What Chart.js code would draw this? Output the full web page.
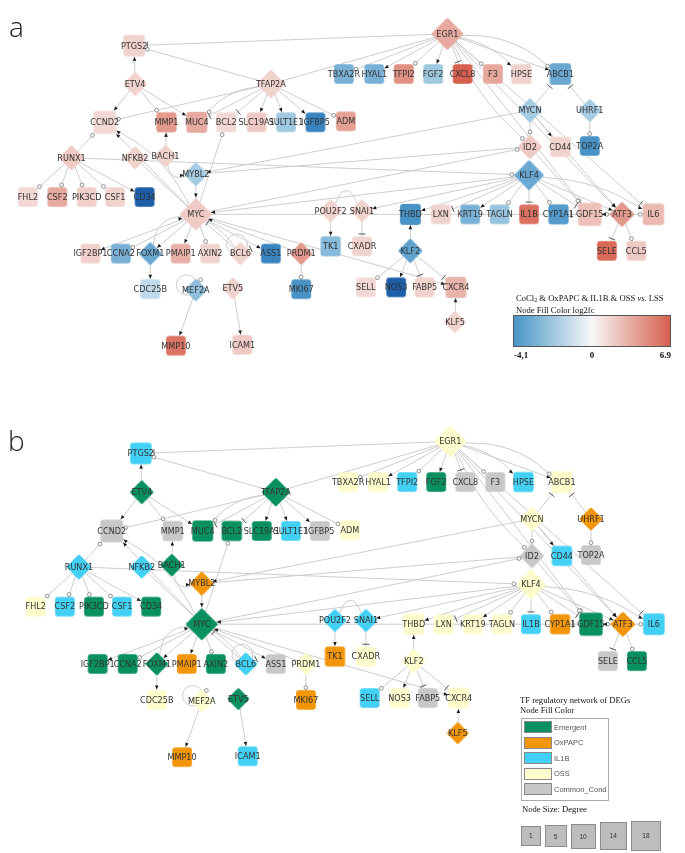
<!DOCTYPE html>
<html>
<head>
<meta charset="utf-8">
<script src="https://cdn.jsdelivr.net/npm/chart.js@4.4.0/dist/chart.umd.min.js"></script>
<style>
  body { margin:0; background:#fff; width:685px; height:853px; position:relative; overflow:hidden; }
  canvas { position:absolute; left:0; }
  #netA { top:0; }
  #netB { top:400px; }
  .tag { position:absolute; font-family:"Open Sans", sans-serif; font-weight:300; font-size:28px; color:#222; line-height:1; }
  .serif { position:absolute; font-family:"Liberation Serif", "Times New Roman", serif; font-size:8.6px; color:#111; line-height:9.6px; white-space:nowrap; }
  #bar { position:absolute; left:513px; top:315px; width:156px; height:30px; border:1px solid #555;
         background:linear-gradient(to right, #4896c7 0%, #f7f7f7 50%, #d6604d 100%); }
  .num { position:absolute; font-family:"Liberation Serif", serif; font-weight:bold; font-size:9px; color:#111; }
  #keyBox { position:absolute; left:521px; top:718px; width:86px; height:81px; border:1px solid #aaa; background:#fff; }
  .sw { position:absolute; left:2px; width:26px; height:10px; border:1px solid #888; }
  .swl { position:absolute; left:32px; font-family:"Liberation Sans", Arial, sans-serif; font-size:7.5px; color:#555; }
  .deg { position:absolute; background:#bdbdbd; border:1px solid #8c8c8c; box-sizing:border-box;
         font-family:"Liberation Sans", Arial, sans-serif; font-size:6.5px; color:#333; display:flex; align-items:center; justify-content:center; }
</style>
</head>
<body>
<canvas id="netA" width="685" height="395"></canvas>
<canvas id="netB" width="685" height="453"></canvas>
<div class="tag" style="left:9px;top:12px;">a</div>
<div class="tag" style="left:8px;top:426px;">b</div>

<div class="serif" style="left:516px;top:294px;">CoCl<sub style="font-size:6px;vertical-align:-1px">2</sub> &amp; OxPAPC &amp; IL1B &amp; OSS <i>vs.</i> LSS<br>Node Fill Color log2fc</div>
<div id="bar"></div>
<div id="fcNums"></div>

<div class="serif" style="left:520px;top:696px;">TF regulatory network of DEGs<br>Node Fill Color</div>
<div id="keyBox"></div>
<div class="serif" style="left:522px;top:805px;">Node Size: Degree</div>
<div id="degKey"></div>

<script>
// ===== Nodes (positions in panel a pixels) =====
const genes = ['EGR1','PTGS2','ETV4','TFAP2A','TBXA2R','HYAL1','TFPI2','FGF2','CXCL8','F3',
  'HPSE','ABCB1','CCND2','MMP1','MUC4','BCL2','SLC19A1','SULT1E1','IGFBP5','ADM',
  'MYCN','UHRF1','ID2','CD44','TOP2A','RUNX1','NFKB2','BACH1','MYBL2','KLF4',
  'FHL2','CSF2','PIK3CD','CSF1','CD34','MYC','POU2F2','SNAI1','THBD','LXN',
  'KRT19','TAGLN','IL1B','CYP1A1','GDF15','ATF3','IL6','IGF2BP1','CCNA2','FOXM1',
  'PMAIP1','AXIN2','BCL6','ASS1','PRDM1','TK1','CXADR','KLF2','SELE','CCL5',
  'CDC25B','MEF2A','ETV5','MKI67','SELL','NOS3','FABP5','CXCR4','KLF5','MMP10','ICAM1'];
const posX = [453,123,124,267,344,376,407,438,469,501,
  531,572,92,157,189,220,252,283,314,346,
  540,603,540,572,603,57,124,156,188,539,
  11,42,73,103,134,188,330,363,414,446,
  477,508,539,570,603,637,670,77,109,140,
  172,203,235,267,299,330,363,414,621,652,
  140,188,227,299,367,399,429,462,461,167,237];
const posY = [18,31,73,73,62,62,62,62,62,62,
  62,62,115,115,115,115,115,115,115,114,
  102,102,142,142,141,154,154,152,172,173,
  197,197,197,197,197,216,212,212,216,216,
  216,216,216,216,216,216,216,259,259,259,
  259,259,259,259,259,251,251,256,256,256,
  298,299,297,298,296,296,296,296,334,360,359];
const isTF = [1,0,1,1,0,0,0,0,0,0,
  0,0,0,0,0,0,0,0,0,0,
  1,1,1,0,0,1,1,1,1,1,
  0,0,0,0,0,1,1,1,0,0,
  0,0,0,0,0,1,0,0,0,1,
  0,0,1,0,1,0,0,1,0,0,
  0,1,1,0,0,0,0,0,1,0,0];
const log2fc = [2.5,1.2,1.2,1.2,-1.8,-1.8,3.5,-1.3,6.9,2.6,
  1.2,-2,1,3,2.5,1,1.5,-1.3,-3.2,2.8,
  -1.2,-1.2,1.5,1.2,-2.8,1.5,1.2,1.2,-1.2,-2,
  1,2.5,1.3,1.2,-4.1,1.5,1.2,1.2,-2.8,1.2,
  -1.8,-1.4,5.5,-2.5,1.8,3,2,1.3,-1.8,-2,
  2.3,1.2,1.2,-3.2,3,-1.6,1.2,-2.2,6,1.5,
  -0.8,-1.5,1.2,-2.8,1,-4.1,1.2,2.2,1.2,5.2,1.5];
const group = ['OSS','IL1B','Emergent','Emergent','OSS','OSS','IL1B','Emergent','Common_Cond','Common_Cond',
  'IL1B','OSS','Common_Cond','Common_Cond','Emergent','Emergent','Emergent','IL1B','Common_Cond','OSS',
  'OSS','OxPAPC','Common_Cond','IL1B','Common_Cond','IL1B','IL1B','Emergent','OxPAPC','OSS',
  'OSS','IL1B','Emergent','IL1B','Emergent','Emergent','IL1B','IL1B','OSS','OSS',
  'OSS','OSS','IL1B','OxPAPC','Emergent','OxPAPC','IL1B','Emergent','Emergent','Emergent',
  'OxPAPC','Emergent','IL1B','Common_Cond','OSS','OxPAPC','OSS','OSS','Common_Cond','Emergent',
  'OSS','OSS','Emergent','OxPAPC','IL1B','OSS','Common_Cond','OSS','OxPAPC','OxPAPC','IL1B'];
const degree = [18,4,4,12,1,1,1,1,1,1,
  2,4,6,2,3,2,1,1,1,1,
  5,3,5,2,1,6,3,2,4,14,
  1,1,1,1,1,18,3,3,3,1,
  1,1,1,2,7,6,4,1,1,3,
  1,1,3,1,2,2,1,5,1,1,
  1,2,1,1,1,1,1,3,1,1,1];

// ===== Edges: [source, target, end mark, bend] =====
const edges = [
  ['EGR1','PTGS2','t',0], ['EGR1','TFAP2A','n',0], ['EGR1','TBXA2R','c',0], ['EGR1','HYAL1','a',0],
  ['EGR1','TFPI2','c',0], ['EGR1','FGF2','a',0], ['EGR1','CXCL8','t',0], ['EGR1','F3','c',0],
  ['EGR1','HPSE','a',-8], ['EGR1','ABCB1','a',0], ['EGR1','ABCB1','c',-14], ['EGR1','ID2','c',8],
  ['EGR1','GDF15','c',0], ['EGR1','ATF3','a',0], ['EGR1','IL6','t',0],
  ['ETV4','PTGS2','a',0], ['ETV4','CCND2','a',0], ['ETV4','MMP1','c',0], ['ETV4','MUC4','a',0],
  ['TFAP2A','PTGS2','c',0], ['TFAP2A','CCND2','c',0], ['TFAP2A','MUC4','t',0], ['TFAP2A','MUC4','c',10],
  ['TFAP2A','BCL2','t',0], ['TFAP2A','SLC19A1','a',0], ['TFAP2A','SULT1E1','a',0], ['TFAP2A','IGFBP5','a',0],
  ['TFAP2A','ADM','c',0],
  ['MYCN','ABCB1','t',0], ['UHRF1','ABCB1','t',0], ['UHRF1','TOP2A','c',0], ['MYCN','ID2','c',0],
  ['MYCN','CD44','a',0], ['MYCN','ATF3','a',0], ['MYCN','MYBL2','a',0], ['ID2','MYBL2','n',0],
  ['ID2','GDF15','c',0],
  ['BACH1','MMP1','a',0], ['BACH1','MYBL2','a',14], ['MYBL2','MYC','a',0],
  ['RUNX1','CCND2','c',0], ['RUNX1','FHL2','c',0], ['RUNX1','CSF2','c',0], ['RUNX1','PIK3CD','c',0],
  ['RUNX1','CSF1','c',0], ['RUNX1','CD34','a',0], ['RUNX1','KLF4','c',0],
  ['NFKB2','MYC','n',0], ['MYC','CCND2','a',0], ['MYC','CCND2','a',12], ['MYC','BCL2','c',0],
  ['MYC','ID2','c',0], ['KLF4','MYC','a',0],
  ['MYC','IGF2BP1','a',0], ['MYC','CCNA2','c',0], ['MYC','FOXM1','a',0], ['MYC','PMAIP1','a',0],
  ['MYC','AXIN2','c',0], ['MYC','BCL6','n',0], ['BCL6','MYC','t',4], ['MYC','ASS1','a',0],
  ['PRDM1','MYC','a',0], ['FOXM1','MYC','a',-16], ['FOXM1','CDC25B','a',0], ['BCL6','BCL6','t',-110],
  ['MEF2A','MEF2A','c',-150], ['MEF2A','MMP10','a',0], ['ETV5','ICAM1','a',0], ['PRDM1','MKI67','c',0],
  ['MYC','ATF3','n',0], ['MYC','CXCR4','a',0],
  ['POU2F2','TK1','a',0], ['POU2F2','SNAI1','n',-22], ['SNAI1','CXADR','t',0], ['KLF4','SNAI1','a',0],
  ['KLF4','THBD','a',0], ['KLF4','LXN','t',0], ['KLF4','KRT19','a',0], ['KLF4','TAGLN','c',0],
  ['KLF4','IL1B','t',0], ['KLF4','CYP1A1','c',0], ['KLF4','GDF15','t',0], ['KLF4','ATF3','a',0],
  ['KLF4','IL6','a',-10],
  ['GDF15','ATF3','c',0], ['ATF3','GDF15','a',0], ['GDF15','CYP1A1','t',0], ['ATF3','IL6','c',0],
  ['ATF3','SELE','t',0], ['ATF3','CCL5','c',0],
  ['KLF2','THBD','a',0], ['KLF2','SELL','c',0], ['KLF2','NOS3','a',0], ['KLF2','FABP5','t',0],
  ['KLF2','CXCR4','t',0], ['KLF5','CXCR4','a',0]
];

// ===== Legend values =====
const fcTicks = ['-4,1', '0', '6.9'];
const groupNames = ['Emergent','OxPAPC','IL1B','OSS','Common_Cond'];
const sizeTicks = [1, 5, 10, 14, 18];

// ===== Styles =====
const groupColors = { Emergent:'#08915e', OxPAPC:'#f39508', IL1B:'#43d0f5', OSS:'#fdfccc', Common_Cond:'#c8c8c8' };
const fcStops = [[-4.1,'#1c5ea8'],[-3,'#3f8dc3'],[-2,'#6aa8d2'],[-1.2,'#a6cce3'],[-0.5,'#d2e5f0'],[0,'#f7f7f7'],
  [1,'#f3d9d5'],[2,'#ebbab2'],[3,'#e39a8d'],[5,'#dc7665'],[6.9,'#d6604d']];

function hex2rgb(h){ return [1,3,5].map(k=>parseInt(h.substr(k,2),16)); }
function fcColor(v){
  if (v <= fcStops[0][0]) return fcStops[0][1];
  for (let k=1;k<fcStops.length;k++){
    if (v <= fcStops[k][0]){
      const [v0,c0]=fcStops[k-1], [v1,c1]=fcStops[k];
      const t=(v-v0)/(v1-v0), a=hex2rgb(c0), b=hex2rgb(c1);
      return 'rgb('+a.map((x,j)=>Math.round(x+(b[j]-x)*t)).join(',')+')';
    }
  }
  return fcStops[fcStops.length-1][1];
}
function sideFor(deg, tf){ return tf ? 22 + deg*0.6 : 19 + deg*0.6; }

function roundRect(g,x,y,w,h,r){
  g.beginPath(); g.moveTo(x+r,y); g.arcTo(x+w,y,x+w,y+h,r); g.arcTo(x+w,y+h,x,y+h,r);
  g.arcTo(x,y+h,x,y,r); g.arcTo(x,y,x+w,y,r); g.closePath();
}
function nodeIcon(tf, side, fill){
  const c=document.createElement('canvas');
  const s=Math.ceil(side)+2; c.width=c.height=s;
  const g=c.getContext('2d');
  g.translate(s/2,s/2); g.fillStyle=fill;
  if (tf){ g.rotate(Math.PI/4); const a=side/Math.SQRT2; roundRect(g,-a/2,-a/2,a,a,1.5); }
  else roundRect(g,-side/2,-side/2,side,side,3);
  g.fill();
  return c;
}

function edgePath(e){
  const a=genes.indexOf(e[0]), b=genes.indexOf(e[1]);
  const p={x:posX[a],y:posY[a]}, q={x:posX[b],y:posY[b]};
  if (a===b){ // self loop, bend = direction in degrees
    const ang=e[3]*Math.PI/180, R=11, cx=p.x+Math.cos(ang)*R, cy=p.y+Math.sin(ang)*R;
    const pts=[];
    for (let k=0;k<=28;k++){ const f=ang+Math.PI+k*2*Math.PI/28; pts.push({x:cx+Math.cos(f)*R,y:cy+Math.sin(f)*R}); }
    return pts;
  }
  if (!e[3]) return [p,q];
  const dx=q.x-p.x, dy=q.y-p.y, L=Math.hypot(dx,dy);
  return [p,{x:(p.x+q.x)/2 - dy/L*e[3], y:(p.y+q.y)/2 + dx/L*e[3]},q];
}

function drawMark(ctx,type,x,y,ux,uy){
  ctx.save();
  if (type==='a'){
    ctx.fillStyle='#1a1a1a'; ctx.beginPath();
    ctx.moveTo(x,y); ctx.lineTo(x-ux*4-uy*1.8,y-uy*4+ux*1.8); ctx.lineTo(x-ux*4+uy*1.8,y-uy*4-ux*1.8);
    ctx.closePath(); ctx.fill();
  } else if (type==='c'){
    ctx.fillStyle='#fff'; ctx.strokeStyle='#777'; ctx.lineWidth=0.8;
    ctx.beginPath(); ctx.arc(x-ux*2,y-uy*2,1.9,0,Math.PI*2); ctx.fill(); ctx.stroke();
  } else if (type==='t'){
    ctx.strokeStyle='#555'; ctx.lineWidth=1;
    ctx.beginPath(); ctx.moveTo(x-ux*2-uy*3.5,y-uy*2+ux*3.5); ctx.lineTo(x-ux*2+uy*3.5,y-uy*2-ux*3.5); ctx.stroke();
  }
  ctx.restore();
}

const netPlugin = {
  id:'netMarks',
  afterDatasetsDraw(chart){
    const ctx=chart.ctx, sides=chart.$sides, nodes=chart.getDatasetMeta(0).data;
    edges.forEach((e,i)=>{
      const pts=chart.getDatasetMeta(i+1).data;
      const q=pts[pts.length-1], p=pts[pts.length-2];
      let ux=q.x-p.x, uy=q.y-p.y; const L=Math.hypot(ux,uy)||1; ux/=L; uy/=L;
      const t=genes.indexOf(e[1]), h=sides[t]/2;
      const d = isTF[t] ? h/(Math.abs(ux)+Math.abs(uy)) : h/Math.max(Math.abs(ux),Math.abs(uy));
      drawMark(ctx,e[2],q.x-ux*(d+0.5),q.y-uy*(d+0.5),ux,uy);
    });
    ctx.save();
    ctx.font='9px "Liberation Sans Narrow", "DejaVu Sans Condensed", Arial, sans-serif';
    ctx.fillStyle='#333'; ctx.textAlign='center'; ctx.textBaseline='middle';
    genes.forEach((g,i)=>ctx.fillText(g, nodes[i].x, nodes[i].y+0.5));
    ctx.restore();
  }
};

function buildChart(id, fills, xr, yr){
  const sides=genes.map((g,i)=>sideFor(degree[i], isTF[i]));
  const nodeSet={
    label:'genes',
    data:genes.map((g,i)=>({x:posX[i],y:posY[i]})),
    pointStyle:genes.map((g,i)=>nodeIcon(isTF[i],sides[i],fills[i])),
    pointRadius:sides.map(s=>s/2),
    pointHoverRadius:sides.map(s=>s/2),
    showLine:false,
    order:0
  };
  const edgeSets=edges.map(e=>({
    label:e[0]+'-'+e[1],
    data:edgePath(e),
    showLine:true, pointRadius:0, pointHoverRadius:0,
    borderColor:'#cccccc', borderWidth:1,
    tension:(e[0]===e[1])?0:0.45,
    order:1
  }));
  return new Chart(document.getElementById(id),{
    type:'scatter',
    data:{datasets:[nodeSet,...edgeSets]},
    options:{
      responsive:false, animation:false, events:[], devicePixelRatio:1,
      layout:{padding:0},
      scales:{
        x:{type:'linear',display:false,min:xr[0],max:xr[1]},
        y:{type:'linear',display:false,reverse:true,min:yr[0],max:yr[1]}
      },
      plugins:{legend:{display:false},tooltip:{enabled:false}}
    },
    plugins:[{id:'sides',beforeInit(c){c.$sides=sides;}}, netPlugin]
  });
}

// ===== Panels =====
buildChart('netA', log2fc.map(fcColor), [0,685], [0,395]);
buildChart('netB', group.map(g=>groupColors[g]), [-8.6,684.7], [-8,445]);

// ===== Legends =====
const fcPos = [[514,'left'],[592,'center'],[671,'right']];
const fcNums=document.getElementById('fcNums');
fcTicks.forEach((t,k)=>{
  const d=document.createElement('div'); d.className='num'; d.textContent=t;
  d.style.top='350px';
  if (fcPos[k][1]==='left') d.style.left=fcPos[k][0]+'px';
  else if (fcPos[k][1]==='right') d.style.right=(685-fcPos[k][0])+'px';
  else { d.style.left=(fcPos[k][0]-10)+'px'; d.style.width='20px'; d.style.textAlign='center'; }
  fcNums.appendChild(d);
});

const keyBox=document.getElementById('keyBox');
groupNames.forEach((g,k)=>{
  const top=2+k*15.6;
  const s=document.createElement('div'); s.className='sw'; s.style.top=top+'px'; s.style.background=groupColors[g];
  const l=document.createElement('div'); l.className='swl'; l.style.top=(top+1.5)+'px'; l.textContent=g;
  keyBox.appendChild(s); keyBox.appendChild(l);
});

const degKey=document.getElementById('degKey');
let left=521;
sizeTicks.forEach(v=>{
  const s=sideFor(v,0);
  const d=document.createElement('div'); d.className='deg';
  d.style.left=left+'px'; d.style.top=(836-s/2)+'px'; d.style.width=s+'px'; d.style.height=s+'px';
  d.textContent=v; degKey.appendChild(d);
  left+=s+4;
});
</script>
</body>
</html>
